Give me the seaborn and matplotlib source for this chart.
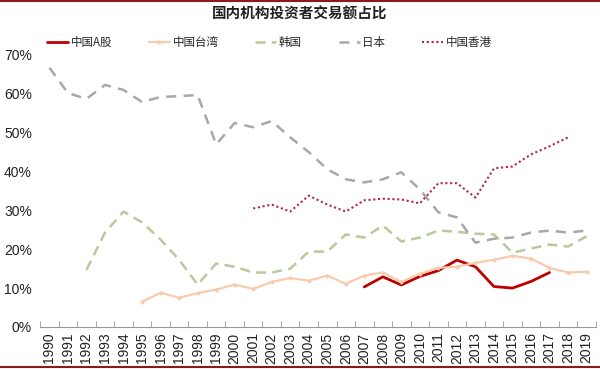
import numpy as np
import pandas as pd
import matplotlib
matplotlib.use("Agg")
import matplotlib.pyplot as plt
import seaborn as sns
from matplotlib.lines import Line2D
from matplotlib.ticker import PercentFormatter, MultipleLocator

# data (share of trading value by domestic institutions, %)
years_a = list(range(2007, 2018))
china_a = [10.3, 12.9, 10.8, 13.0, 14.5, 17.2, 15.5, 10.4, 10.0, 11.7, 14.0]

years_tw = list(range(1995, 2020))
taiwan = [6.5, 8.8, 7.5, 8.7, 9.6, 10.9, 9.8, 11.6, 12.6, 11.9, 13.2, 11.1, 13.2,
          14.0, 11.6, 13.7, 15.2, 15.5, 16.5, 17.3, 18.3, 17.6, 15.2, 14.0, 14.2]

years_kr = list(range(1992, 2020))
korea = [14.7, 24.3, 29.7, 26.9, 22.5, 17.3, 10.9, 16.3, 15.5, 14.0, 14.0, 15.0,
         19.4, 19.4, 23.8, 23.0, 26.1, 22.0, 23.0, 24.8, 24.5, 24.0, 23.8, 19.1,
         20.2, 21.2, 20.7, 23.3]

years_jp = list(range(1990, 2020))
japan = [66.7, 60.2, 58.7, 62.3, 61.0, 57.9, 59.2, 59.4, 59.7, 47.0, 52.5, 51.4,
         53.0, 48.8, 45.0, 40.6, 38.0, 37.2, 38.0, 39.8, 35.4, 29.5, 28.2, 21.7,
         22.7, 23.0, 24.3, 24.8, 24.3, 24.8]

years_hk = list(range(2001, 2019))
hongkong = [30.5, 31.5, 29.7, 33.8, 31.5, 29.7, 32.6, 33.0, 32.8, 31.8, 37.0,
            37.0, 33.3, 40.8, 41.3, 44.4, 46.5, 48.8]

all_years = list(range(1990, 2020))

sns.set_style("white")
plt.rcParams['font.family'] = ['Noto Sans CJK SC', 'DejaVu Sans']

fig = plt.figure(figsize=(6, 3.69), dpi=100)
ax = fig.add_axes([0.067, 0.114, 0.926, 0.737])

sns.lineplot(x=years_a, y=china_a, ax=ax, color="#C00000", lw=2.0, label="中国A股")
sns.lineplot(x=years_tw, y=taiwan, ax=ax, color="#F8CBAD", lw=1.6, marker="D",
             markersize=2.5, markeredgewidth=0, label="中国台湾")
sns.lineplot(x=years_kr, y=korea, ax=ax, color="#B8C99C", lw=1.8, label="韩国")
sns.lineplot(x=years_jp, y=japan, ax=ax, color="#A8A8A8", lw=1.8, label="日本")
sns.lineplot(x=years_hk, y=hongkong, ax=ax, color="#B5263A", lw=1.5, label="中国香港")

lines = ax.get_lines()
lines[2].set_dashes([4, 2.5])
lines[3].set_dashes([4, 3])
lines[4].set_dashes([1, 1.3])

ax.set_xlim(1989.5, 2019.5)
ax.set_ylim(0, 70)
ax.yaxis.set_major_locator(MultipleLocator(10))
ax.yaxis.set_major_formatter(PercentFormatter(decimals=0))
ax.set_xticks(all_years)
ax.set_xticklabels([str(y) for y in all_years], rotation=90,
                   fontsize=10, family=['Liberation Sans'], color="#222222")
ax.set_xticks(np.arange(1989.5, 2020, 1), minor=True)
for t in ax.get_yticklabels():
    t.set_family(['Liberation Sans'])
    t.set_fontsize(10)
    t.set_color("#222222")
ax.tick_params(axis='x', which='major', length=0, pad=4)
ax.tick_params(axis='x', which='minor', length=4, direction='in', color="#999999", bottom=True)
ax.tick_params(axis='y', length=0, pad=6)

for s in ['top', 'right', 'left']:
    ax.spines[s].set_visible(False)
ax.spines['bottom'].set_color("#999999")
ax.spines['bottom'].set_linewidth(0.8)
ax.set_xlabel("")
ax.set_ylabel("")

ax.legend(loc='center left', bbox_to_anchor=(0.078, 0.886), bbox_transform=fig.transFigure,
          ncol=5, frameon=False, fontsize=8.3, handlelength=1.8, columnspacing=3.2,
          handletextpad=0.25, borderaxespad=0, borderpad=0)

fig.text(0.5, 0.962, "国内机构投资者交易额占比", ha='center', va='center',
         fontsize=10.5, fontweight='bold', color="#222222")

fig.add_artist(Line2D([0, 1], [0.997, 0.997], transform=fig.transFigure, color="#8B1A1A", lw=1.5))
fig.add_artist(Line2D([0, 1], [0.006, 0.006], transform=fig.transFigure, color="#8B1A1A", lw=1.5))

fig.savefig("out.png", dpi=100)
